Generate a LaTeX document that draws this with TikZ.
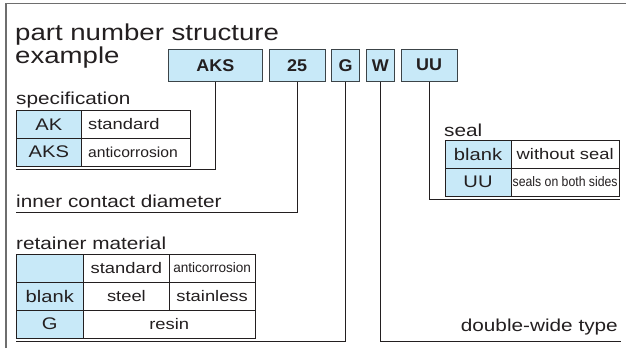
\documentclass[tikz,border=0pt]{standalone}
\usepackage{fontspec}
\setmainfont[FakeStretch=1.2]{Liberation Sans}
\usepackage{graphicx}
\newcommand\myfs[1]{\fontsize{#1}{#1}\selectfont}
\newcommand\boxtxt[1]{\scalebox{0.88}[1]{\bfseries\myfs{17}#1}}
\definecolor{cellblue}{HTML}{C8E9F8}
\definecolor{ink}{HTML}{231F20}
\definecolor{framegray}{HTML}{6E6E6E}
\definecolor{boxline}{HTML}{3C4448}
\begin{document}
\begin{tikzpicture}[x=1pt,y=-1pt,
  every node/.style={text=ink, inner sep=0pt},
  codebox/.style={draw=boxline, fill=cellblue, line width=0.9pt, minimum height=31.7pt},
  conn/.style={draw=ink, line width=0.8pt},
  lbl/.style={font=\myfs{17.3}},
  bluecell/.style={draw=ink, fill=cellblue, line width=0.8pt, font=\myfs{16.8}},
  whitecell/.style={draw=ink, fill=white, line width=0.8pt, font=\myfs{15.3}},
  txt/.style={font=\myfs{15.3}}
]
\useasboundingbox (0,0) rectangle (626,348);
% frame
\draw[framegray, line width=1.4pt] (6,348) -- (6,3.5) -- (626,3.5);

% title
\node[anchor=base west, font=\myfs{23}] (title1) at (15,40) {part number structure};
\node[anchor=base west, font=\myfs{23}] (title2) at (15,63) {example};

% code boxes
\node[codebox, minimum width=94pt] (aks) at (215.3,65.2) {\boxtxt{AKS}};
\node[codebox, minimum width=55.5pt] (n25) at (297.2,65.2) {\boxtxt{25}};
\node[codebox, minimum width=27.6pt] (g) at (345.5,65.2) {\boxtxt{G}};
\node[codebox, minimum width=28pt] (w) at (380.3,65.2) {\boxtxt{W}};
\node[codebox, minimum width=56.3pt] (uu) at (429.2,65.2) {\boxtxt{UU}};

% connector end points
\coordinate (c1) at (16,169.5);
\coordinate (c2) at (16,212);
\coordinate (c3) at (16,341.5);
\coordinate (c4) at (621,341.5);
\coordinate (c5) at (620,199);

\draw[conn] (aks.south) |- (c1);
\draw[conn] (n25.south) |- (c2);
\draw[conn] (g.south) |- (c3);
\draw[conn] (w.south) |- (c4);
\draw[conn] (uu.south) |- (c5);

% specification
\node[lbl, anchor=base west] (speclbl) at (16,104) {specification};
\node[bluecell, minimum width=65.7pt, minimum height=27.65pt] (sak) at (48.85,124.5) {AK};
\node[whitecell, minimum width=108.3pt, minimum height=27.65pt] (sakd) at (135.85,124.5) {};
\node[bluecell, minimum width=65.7pt, minimum height=27.65pt] (saks) at (48.85,152.15) {AKS};
\node[whitecell, minimum width=108.3pt, minimum height=27.65pt] (saksd) at (135.85,152.15) {};
\node[txt, anchor=west] (sakt) at (88,124.5) {standard};
\node[anchor=west] (sakst) at (88,152.15) {\scalebox{0.9}[1]{\myfs{14.5}anticorrosion}};

% inner contact diameter
\node[lbl, anchor=base west] (icdlbl) at (16,207.3) {inner contact diameter};

% seal
\node[lbl, anchor=base west] (seallbl) at (444,136.5) {seal};
\node[bluecell, minimum width=66pt, minimum height=28pt] (sblank) at (478,154) {blank};
\node[whitecell, minimum width=108.3pt, minimum height=28pt] (sblankd) at (565.15,154) {without seal};
\node[bluecell, minimum width=66pt, minimum height=28pt] (suu) at (478,182) {UU};
\node[whitecell, minimum width=108.3pt, minimum height=28pt] (suud) at (565.15,182) {\scalebox{0.74}[1]{\myfs{13.8}seals on both sides}};

% retainer material
\node[lbl, anchor=base west] (retlbl) at (16,249) {retainer material};
\node[bluecell, minimum width=67.5pt, minimum height=28pt] (r00) at (49.75,268) {};
\node[whitecell, minimum width=85.8pt, minimum height=28pt] (r01) at (126.4,268) {standard};
\node[whitecell, minimum width=85.7pt, minimum height=28pt] (r02) at (212.15,268) {\scalebox{0.82}[1]{\myfs{13.8}anticorrosion}};
\node[bluecell, minimum width=67.5pt, minimum height=28pt] (r10) at (49.75,296) {blank};
\node[whitecell, minimum width=85.8pt, minimum height=28pt] (r11) at (126.4,296) {steel};
\node[whitecell, minimum width=85.7pt, minimum height=28pt] (r12) at (212.15,296) {stainless};
\node[bluecell, minimum width=67.5pt, minimum height=28pt] (r20) at (49.75,324) {G};
\node[whitecell, minimum width=171.5pt, minimum height=28pt] (r21) at (169.25,324) {resin};

% double-wide
\node[lbl, anchor=base east] (dwlbl) at (618,331.5) {double-wide type};
\end{tikzpicture}
\end{document}
